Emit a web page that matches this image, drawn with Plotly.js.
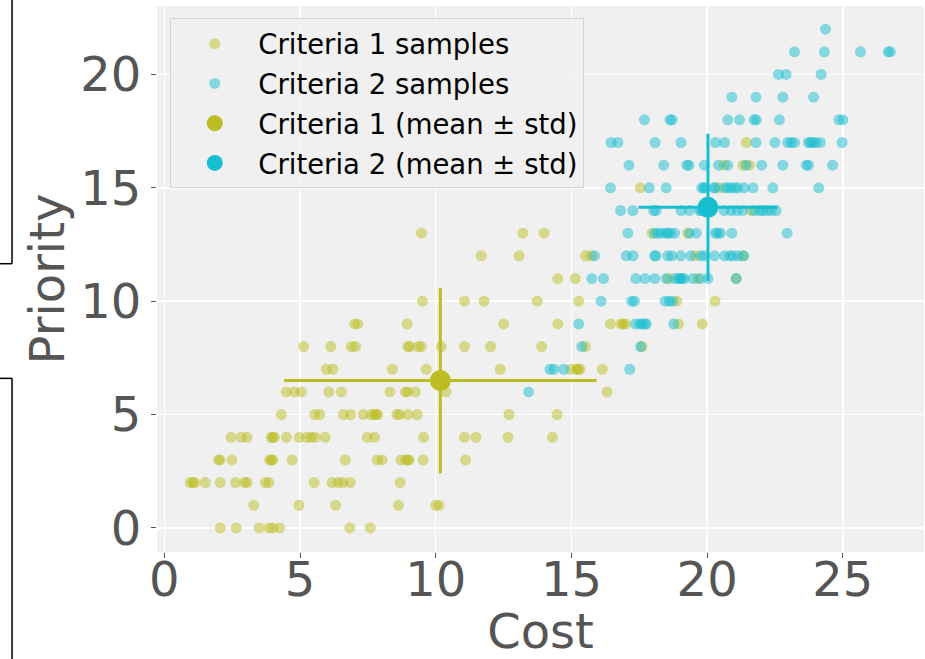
<!DOCTYPE html>
<html>
<head>
<meta charset="utf-8">
<script src="https://cdn.plot.ly/plotly-3.0.1.min.js"></script>
<style>html,body{margin:0;padding:0;background:#fff;}#chart{width:925px;height:659px;}</style>
</head>
<body>
<div id="chart"></div>
<script>
// Criteria 1 samples (cost, priority)
const c1Cost = [
  2.06, 2.65, 3.49, 3.86, 4.00, 4.25, 6.83, 7.59,
  3.29, 4.96, 6.31, 8.63, 10.00, 10.12,
  0.95, 1.05, 1.12, 1.51, 2.06, 2.62, 2.96, 3.05, 3.72, 3.85, 5.52, 6.18, 6.40, 6.58, 6.85, 8.69,
  2.00, 2.05, 2.49, 3.88, 3.95, 4.00, 4.71, 6.67, 7.85, 8.02, 8.72, 8.90, 8.97, 9.02, 9.53, 11.10,
  2.46, 2.84, 3.05, 3.94, 4.00, 4.05, 4.50, 4.97, 5.25, 5.41, 5.56, 5.93, 7.48, 7.75, 9.55, 11.06, 11.48, 12.66, 14.30,
  4.31, 5.54, 5.72, 6.60, 6.86, 7.33, 7.62, 7.75, 7.80, 7.86, 8.57, 8.67, 8.97, 9.32, 12.70, 14.47,
  4.49, 4.80, 5.05, 6.06, 6.52, 8.31, 8.88, 8.96, 9.25, 10.38, 16.31,
  5.97, 6.21, 8.40, 9.65, 12.38, 14.99, 15.20, 15.25, 15.31, 16.14,
  5.13, 6.13, 6.89, 7.04, 8.97, 9.04, 9.35, 9.47, 10.20, 11.06, 12.02, 13.90, 15.51, 17.60,
  7.01, 7.13, 8.95, 12.50, 14.50, 16.44, 16.83, 16.90, 17.00, 18.94, 19.82,
  9.51, 11.06, 11.78, 13.74, 15.27, 18.88, 20.29,
  14.49, 15.14, 18.58, 19.65, 21.07,
  11.68, 13.07, 15.52, 15.73, 19.57, 21.32,
  9.47, 13.21, 13.99, 17.97, 19.28,
  21.62,
  17.54, 20.44,
  20.62, 21.32, 21.56,
  21.44
];
const c1Priority = [
  0, 0, 0, 0, 0, 0, 0, 0,
  1, 1, 1, 1, 1, 1,
  2, 2, 2, 2, 2, 2, 2, 2, 2, 2, 2, 2, 2, 2, 2, 2,
  3, 3, 3, 3, 3, 3, 3, 3, 3, 3, 3, 3, 3, 3, 3, 3,
  4, 4, 4, 4, 4, 4, 4, 4, 4, 4, 4, 4, 4, 4, 4, 4, 4, 4, 4,
  5, 5, 5, 5, 5, 5, 5, 5, 5, 5, 5, 5, 5, 5, 5, 5,
  6, 6, 6, 6, 6, 6, 6, 6, 6, 6, 6,
  7, 7, 7, 7, 7, 7, 7, 7, 7, 7,
  8, 8, 8, 8, 8, 8, 8, 8, 8, 8, 8, 8, 8, 8,
  9, 9, 9, 9, 9, 9, 9, 9, 9, 9, 9,
  10, 10, 10, 10, 10, 10, 10,
  11, 11, 11, 11, 11,
  12, 12, 12, 12, 12, 12,
  13, 13, 13, 13, 13,
  14,
  15, 15,
  16, 16, 16,
  17
];

// Criteria 2 samples (cost, priority)
const c2Cost = [
  13.42,
  14.21, 14.35, 14.72, 17.15,
  15.38, 17.55,
  15.27, 17.36, 17.52, 17.60, 17.70, 17.76, 18.77,
  16.09, 17.22, 17.32, 18.45, 18.60, 18.72,
  15.75, 16.18, 17.37, 17.71, 18.07, 18.49, 18.80, 18.95, 19.01, 19.08, 19.15, 19.48, 19.75, 20.03, 21.07,
  15.85, 17.02, 17.27, 18.06, 18.12, 18.55, 18.70, 19.03, 19.40, 19.77, 19.91, 20.27, 20.64, 20.83, 20.95, 21.14, 21.35,
  17.08, 18.06, 18.18, 18.31, 18.48, 18.54, 18.65, 18.80, 19.35, 19.60, 20.30, 20.39, 20.49, 20.91, 22.95,
  16.81, 17.26, 18.03, 18.12, 19.04, 19.35, 19.72, 19.78, 20.63, 20.88, 21.10, 21.31, 21.73, 21.93, 22.05, 22.21, 22.36, 22.54,
  16.44, 17.87, 18.49, 19.80, 19.88, 19.93, 20.25, 20.30, 20.64, 20.76, 20.88, 21.01, 21.13, 21.36, 21.69, 22.42, 24.11,
  17.12, 18.40, 19.25, 19.33, 19.90, 20.42, 20.76, 21.44, 22.01, 22.79, 23.65, 23.73, 24.62,
  16.46, 16.71, 18.08, 19.04, 20.31, 20.64, 21.80, 22.50, 22.97, 23.09, 23.22, 23.73, 23.81, 23.89, 24.01, 24.17, 24.97,
  17.69, 18.63, 18.71, 20.76, 21.19, 21.73, 21.81, 22.66, 24.85, 25.00,
  20.91, 21.80, 22.79, 23.92,
  22.63, 22.91, 24.20,
  23.22, 24.32, 25.65, 26.67, 26.75,
  24.36
];
const c2Priority = [
  6,
  7, 7, 7, 7,
  8, 8,
  9, 9, 9, 9, 9, 9, 9,
  10, 10, 10, 10, 10, 10,
  11, 11, 11, 11, 11, 11, 11, 11, 11, 11, 11, 11, 11, 11, 11,
  12, 12, 12, 12, 12, 12, 12, 12, 12, 12, 12, 12, 12, 12, 12, 12, 12,
  13, 13, 13, 13, 13, 13, 13, 13, 13, 13, 13, 13, 13, 13, 13,
  14, 14, 14, 14, 14, 14, 14, 14, 14, 14, 14, 14, 14, 14, 14, 14, 14, 14,
  15, 15, 15, 15, 15, 15, 15, 15, 15, 15, 15, 15, 15, 15, 15, 15, 15,
  16, 16, 16, 16, 16, 16, 16, 16, 16, 16, 16, 16, 16,
  17, 17, 17, 17, 17, 17, 17, 17, 17, 17, 17, 17, 17, 17, 17, 17, 17,
  18, 18, 18, 18, 18, 18, 18, 18, 18, 18,
  19, 19, 19, 19,
  20, 20, 20,
  21, 21, 21, 21, 21,
  22
];

// Mean ± std
const meanCost = [10.17, 20.03];
const meanPriority = [6.50, 14.14];
const stdCost = [5.76, 2.56];
const stdPriority = [4.09, 3.25];

const seriesNames = ['Criteria 1', 'Criteria 2'];
const seriesColors = ['#bcbd22', '#17becf'];
const xTicks = [0, 5, 10, 15, 20, 25];
const yTicks = [0, 5, 10, 15, 20];

const FONT = 'DejaVu Sans, Liberation Sans, sans-serif';

const traces = [
  {type: 'scatter', mode: 'markers', name: seriesNames[0] + ' samples', x: c1Cost, y: c1Priority,
   marker: {color: seriesColors[0], size: 11, opacity: 0.5, line: {width: 0}}, legendgroup: 'a'},
  {type: 'scatter', mode: 'markers', name: seriesNames[1] + ' samples', x: c2Cost, y: c2Priority,
   marker: {color: seriesColors[1], size: 11, opacity: 0.5, line: {width: 0}}, legendgroup: 'b'}
];
for (let i = 0; i < 2; i++) {
  traces.push({
    type: 'scatter', mode: 'markers', name: seriesNames[i] + ' (mean ± std)',
    x: [meanCost[i]], y: [meanPriority[i]],
    marker: {color: seriesColors[i], size: 21, line: {width: 0}},
    error_x: {type: 'data', array: [stdCost[i]], color: seriesColors[i], thickness: 3, width: 0},
    error_y: {type: 'data', array: [stdPriority[i]], color: seriesColors[i], thickness: 3, width: 0},
    legendgroup: 'm' + i
  });
}

const axisCommon = {
  showgrid: true, gridcolor: '#ffffff', gridwidth: 1.5,
  zeroline: false, showline: false,
  ticks: 'outside', ticklen: 5, tickwidth: 1, tickcolor: '#555555',
  tickfont: {family: FONT, size: 48, color: '#555555'}
};

const layout = {
  width: 925, height: 659,
  margin: {l: 157, r: 1, t: 6, b: 107, pad: 0},
  paper_bgcolor: '#ffffff', plot_bgcolor: '#f0f0f0',
  font: {family: FONT},
  showlegend: true,
  legend: {
    x: 0.0173, y: 0.9775, xanchor: 'left', yanchor: 'top',
    bgcolor: 'rgba(240,240,240,0.8)', bordercolor: '#d4d4d4', borderwidth: 1,
    font: {family: FONT, size: 27.5, color: '#000000'},
    traceorder: 'grouped', tracegroupgap: 1, itemwidth: 77
  },
  xaxis: Object.assign({}, axisCommon, {
    range: [-0.27, 27.99], tickvals: xTicks, ticktext: xTicks.map(String),
    ticklabelstandoff: -20,
    title: {text: 'Cost', font: {family: FONT, size: 48, color: '#555555'}, standoff: 34}
  }),
  yaxis: Object.assign({}, axisCommon, {
    range: [-1.06, 23.02], tickvals: yTicks, ticktext: yTicks.map(String),
    title: {text: 'Priority', font: {family: FONT, size: 48, color: '#555555'}, standoff: 0}
  }),
  shapes: [
    {type: 'line', xref: 'paper', yref: 'paper', x0: -0.189, x1: -0.189, y0: 1.02, y1: 0.528, line: {color: '#000', width: 1.5}},
    {type: 'line', xref: 'paper', yref: 'paper', x0: -0.21, x1: -0.189, y0: 0.528, y1: 0.528, line: {color: '#000', width: 1.5}},
    {type: 'line', xref: 'paper', yref: 'paper', x0: -0.21, x1: -0.189, y0: 0.318, y1: 0.318, line: {color: '#000', width: 1.5}},
    {type: 'line', xref: 'paper', yref: 'paper', x0: -0.189, x1: -0.189, y0: 0.318, y1: -0.21, line: {color: '#000', width: 1.5}}
  ]
};

Plotly.newPlot('chart', traces, layout, {displayModeBar: false, staticPlot: true});
</script>
</body>
</html>
